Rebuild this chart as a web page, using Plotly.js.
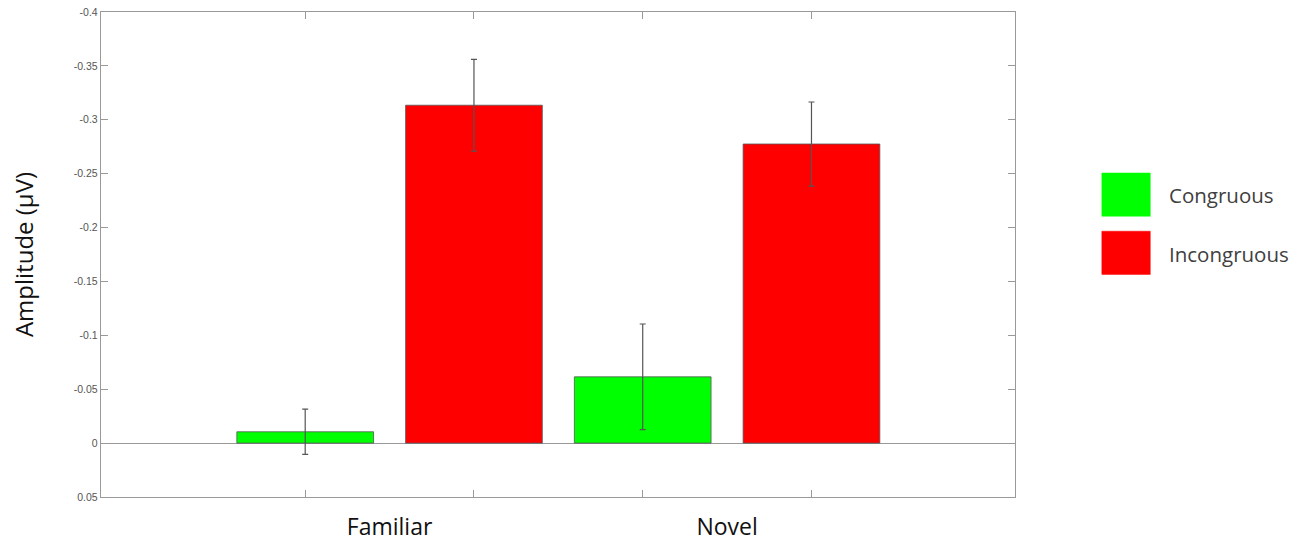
<!DOCTYPE html>
<html>
<head>
<meta charset="utf-8">
<script src="https://cdn.plot.ly/plotly-3.0.1.min.js"></script>
<style>html,body{margin:0;padding:0;background:#fff;}#chart{width:1310px;height:543px;}</style>
</head>
<body>
<div id="chart"></div>
<script>
// ---- data ----
const categories = ["Familiar", "Novel"];
const seriesNames = ["Congruous", "Incongruous"];
const congruous = [-0.0105, -0.0615];
const congruousErr = [0.021, 0.049];
const incongruous = [-0.3135, -0.2775];
const incongruousErr = [0.0425, 0.039];
const yTickVals = [-0.4, -0.35, -0.3, -0.25, -0.2, -0.15, -0.1, -0.05, 0, 0.05];
const yTickText = ["-0.4", "-0.35", "-0.3", "-0.25", "-0.2", "-0.15", "-0.1", "-0.05", "0", "0.05"];
const colors = ["#00ff00", "#ff0000"];

const values = [congruous, incongruous];
const errors = [congruousErr, incongruousErr];

const barOffset = 0.25;
const traces = values.map((v, s) => ({
  type: "bar",
  name: seriesNames[s],
  x: categories,
  y: v,
  marker: {color: colors[s], line: {color: "#555", width: 0.8}},
  error_y: {type: "data", array: errors[s], visible: true, color: "#555", thickness: 1.2, width: 3},
  showlegend: false,
  xaxis: "x", yaxis: "y"
}));

// tick positions at bar centres
const tickPos = [];
categories.forEach((c, i) => { tickPos.push(i - barOffset, i + barOffset); });

const xr = [-0.855, 1.853];

// legend built from series names / colors
const shapes = [];
const annotations = [];
seriesNames.forEach((n, s) => {
  const top = 0.668 - s * 0.12;
  shapes.push({type: "rect", xref: "paper", yref: "paper",
    x0: 1.095, x1: 1.148, y0: top - 0.089, y1: top,
    fillcolor: colors[s], line: {color: colors[s], width: 0.5}});
  annotations.push({xref: "paper", yref: "paper", x: 1.166, y: top - 0.046,
    xanchor: "left", yanchor: "middle", text: n, showarrow: false,
    font: {family: "Open Sans, Noto Sans, sans-serif", size: 20.5, color: "#404040"}});
});

const layout = {
  width: 1310, height: 543,
  margin: {l: 101, r: 295, t: 12, b: 46},
  paper_bgcolor: "#fff", plot_bgcolor: "#fff",
  barmode: "group", bargap: 0, bargroupgap: 0.19,
  xaxis: {
    type: "category", range: xr, showgrid: false, zeroline: false,
    ticks: "", ticklen: 0, showline: true, linecolor: "#999", linewidth: 1.2, mirror: true,
    tickfont: {family: "Open Sans, Noto Sans, sans-serif", size: 23, color: "#111"},
    ticklabelstandoff: 9
  },
  xaxis2: {
    overlaying: "x", anchor: "y", side: "bottom", type: "linear", range: xr,
    tickmode: "array", tickvals: tickPos, ticks: "inside", ticklen: 7, tickcolor: "#999",
    showticklabels: false, showgrid: false, zeroline: false, showline: false, mirror: "ticks"
  },
  yaxis: {
    range: [0.05, -0.4], tickmode: "array", tickvals: yTickVals, ticktext: yTickText,
    ticks: "inside", ticklen: 7, tickcolor: "#999", showgrid: false,
    zeroline: true, zerolinecolor: "#999", zerolinewidth: 1.2,
    showline: true, linecolor: "#999", linewidth: 1.2, mirror: "ticks",
    tickfont: {family: "Liberation Sans, Arial, sans-serif", size: 10.5, color: "#555"},
    title: {text: "Amplitude (µV)", standoff: 33,
      font: {family: "Open Sans, Noto Sans, sans-serif", size: 24, color: "#111"}}
  },
  shapes: shapes,
  annotations: annotations
};

traces.push({type: "scatter", x: tickPos, y: tickPos.map(() => null), xaxis: "x2", yaxis: "y",
  showlegend: false, hoverinfo: "skip", mode: "markers"});

Plotly.newPlot("chart", traces, layout, {displayModeBar: false, staticPlot: true});
</script>
</body>
</html>
